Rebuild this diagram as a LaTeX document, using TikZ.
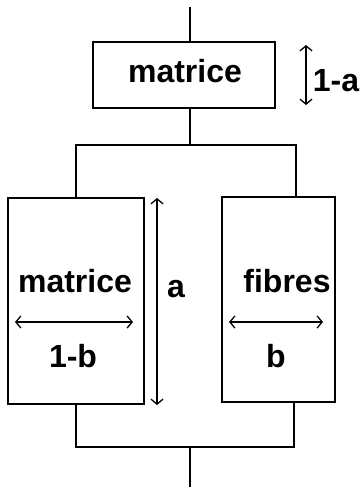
\documentclass[tikz,border=0pt]{standalone}
\usepackage{fontspec}
\setmainfont{Liberation Sans}
\usepackage{tikz}
\usetikzlibrary{arrows.meta, positioning}

\begin{document}
\begin{tikzpicture}[
          x=1pt, y=-1pt,
          phase/.style={draw, line width=2.8pt, inner sep=0pt},
          lbl/.style={font=\fontsize{32}{38}\selectfont\bfseries, inner sep=0pt},
          wire/.style={line width=2.8pt},
          dim/.style={{Straight Barb[length=5pt, width=12pt]}-{Straight Barb[length=5pt, width=12pt]}, line width=1.3pt}
        ]
          \useasboundingbox (0,0) rectangle (362,487);
          % layers in series / parallel
          \node[phase, minimum width=182pt, minimum height=66pt] (top) at (184,75) {};
          \node[lbl] (toptxt) at (185,71) {matrice};
          \node[phase, minimum width=136pt, minimum height=206pt] (lbox) at (76,301) {};
          \node[phase, minimum width=113pt, minimum height=205pt] (rbox) at (278.5,299.5) {};
          \node[lbl] (ltxt) at (75,281) {matrice};
          \node[lbl] (rtxt) at (287,281) {fibres};
          \node[lbl] (lw) at (73,356) {1-b};
          \node[lbl] (rw) at (276,356) {b};
          \node[lbl] (ha) at (336,81) {1-a};
          \node[lbl] (hb) at (176,289) {a};
          % wiring
          \coordinate (in) at (190,7);
          \coordinate (split) at (190,145);
          \coordinate (rc) at (296,145);
          \coordinate (join) at (190,447);
          \coordinate (rj) at (294,447);
          \coordinate (out) at (190,487);
          \draw[wire] (in) -- (in |- top.north);
          \draw[wire] (split |- top.south) -- (split);
          \draw[wire] (lbox.north) -- (lbox.north |- split) -- (rc) -- (rc |- rbox.north);
          \draw[wire] (lbox.south) -- (lbox.south |- join) -- (rj) -- (rj |- rbox.south);
          \draw[wire] (join) -- (out);
          % dimensions
          \coordinate (a1) at (306,45);
          \coordinate (a2) at (306,105);
          \coordinate (b1) at (157,198);
          \coordinate (b2) at (157,405);
          \coordinate (c1) at (15,322);
          \coordinate (c2) at (133,322);
          \coordinate (d1) at (229,322);
          \coordinate (d2) at (323,322);
          \draw[dim] (a1) -- (a2);
          \draw[dim] (b1) -- (b2);
          \draw[dim] (c1) -- (c2);
          \draw[dim] (d1) -- (d2);
        \end{tikzpicture}
\end{document}
